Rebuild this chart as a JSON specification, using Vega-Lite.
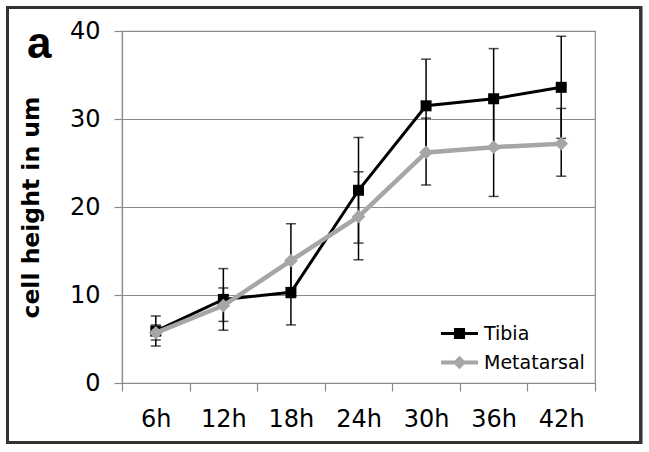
{
  "$schema": "https://vega.github.io/schema/vega-lite/v6.json",
  "width": 473,
  "height": 352,
  "autosize": {"type": "none"},
  "padding": {"left": 122, "top": 31, "right": 54, "bottom": 69},
  "background": "white",
  "config": {"view": {"stroke": "#8a8a8a", "strokeWidth": 1.2}, "font": "DejaVu Sans"},
  "title": {"text": "a", "anchor": "start", "frame": "group", "font": "Liberation Sans", "fontSize": 44, "fontWeight": "bold", "color": "black", "dx": -95, "baseline": "alphabetic", "offset": 0, "dy": 96},
  "data": {"values": [
    {"series": "Tibia", "hour": 6, "height": 5.9, "lo": 4.2, "hi": 7.6},
    {"series": "Tibia", "hour": 12, "height": 9.5, "lo": 6.0, "hi": 13.0},
    {"series": "Tibia", "hour": 18, "height": 10.3, "lo": 6.6, "hi": 14.0},
    {"series": "Tibia", "hour": 24, "height": 21.9, "lo": 15.9, "hi": 27.9},
    {"series": "Tibia", "hour": 30, "height": 31.5, "lo": 26.2, "hi": 36.8},
    {"series": "Tibia", "hour": 36, "height": 32.3, "lo": 26.6, "hi": 38.0},
    {"series": "Tibia", "hour": 42, "height": 33.6, "lo": 27.8, "hi": 39.4},
    {"series": "Metatarsal", "hour": 6, "height": 5.7, "lo": 4.9, "hi": 6.6},
    {"series": "Metatarsal", "hour": 12, "height": 8.8, "lo": 7.0, "hi": 10.8},
    {"series": "Metatarsal", "hour": 18, "height": 13.9, "lo": 9.7, "hi": 18.1},
    {"series": "Metatarsal", "hour": 24, "height": 18.9, "lo": 14.0, "hi": 24.0},
    {"series": "Metatarsal", "hour": 30, "height": 26.2, "lo": 22.5, "hi": 30.1},
    {"series": "Metatarsal", "hour": 36, "height": 26.8, "lo": 21.2, "hi": 32.4},
    {"series": "Metatarsal", "hour": 42, "height": 27.2, "lo": 23.5, "hi": 31.2}
  ]},
  "encoding": {
    "x": {"field": "hour", "type": "quantitative",
      "scale": {"domain": [3, 45], "nice": false, "zero": false},
      "axis": {"values": [3, 6, 9, 12, 15, 18, 21, 24, 27, 30, 33, 36, 39, 42, 45], "title": null, "grid": false,
        "labelExpr": "datum.value % 6 == 0 ? datum.value + 'h' : ''",
        "tickOpacity": {"condition": {"test": "datum.value % 6 == 3", "value": 1}, "value": 0},
        "tickSize": 8, "tickColor": "#8a8a8a", "tickWidth": 1.2, "domainColor": "#8a8a8a", "domainWidth": 1.2,
        "labelFont": "DejaVu Sans", "labelFontSize": 24, "labelColor": "black", "labelPadding": 16,
        "labelOverlap": false, "labelFlush": false, "labelBound": false}},
    "y": {"field": "height", "type": "quantitative",
      "scale": {"domain": [0, 40], "nice": false, "zero": false},
      "axis": {"values": [0, 10, 20, 30, 40], "title": "cell height in um",
        "titleFont": "DejaVu Sans", "titleFontSize": 23.5, "titleFontWeight": "bold", "titleColor": "black", "titlePadding": 26,
        "labelFont": "DejaVu Sans", "labelFontSize": 24, "labelColor": "black", "labelPadding": 14,
        "tickSize": 8, "tickColor": "#8a8a8a", "tickWidth": 1.2, "domainColor": "#8a8a8a", "domainWidth": 1.2,
        "grid": true, "gridColor": "#8a8a8a", "gridWidth": 1.2}}
  },
  "layer": [
    {"mark": {"type": "errorbar", "ticks": {"size": 10}, "thickness": 1.5, "color": "black"},
     "encoding": {"y": {"field": "lo", "type": "quantitative", "scale": {"domain": [0, 40], "nice": false, "zero": false}, "title": "cell height in um"}, "y2": {"field": "hi"}}},
    {"transform": [{"filter": "datum.series == 'Tibia'"}],
     "mark": {"type": "line", "color": "black", "strokeWidth": 3}},
    {"transform": [{"filter": "datum.series == 'Tibia'"}],
     "mark": {"type": "point", "shape": "square", "size": 121, "filled": true, "color": "black", "opacity": 1}},
    {"transform": [{"filter": "datum.series == 'Metatarsal'"}],
     "mark": {"type": "line", "color": "#a6a6a6", "strokeWidth": 4.5}},
    {"transform": [{"filter": "datum.series == 'Metatarsal'"}],
     "mark": {"type": "point", "shape": "diamond", "size": 190, "filled": true, "color": "#a6a6a6", "opacity": 1}},
    {"transform": [{"filter": "false"}],
     "mark": {"type": "point", "filled": true, "opacity": 1, "size": 1369},
     "encoding": {
       "shape": {"field": "series", "type": "nominal",
         "scale": {"domain": ["Tibia", "Metatarsal"], "range": ["M-1,-0.08H1V0.08H-1Z M-0.3,-0.3H0.3V0.3H-0.3Z", "M-1,-0.11H1V0.11H-1Z M0,-0.36L0.36,0L0,0.36L-0.36,0Z"]},
         "legend": {"orient": "bottom-right", "offset": 10, "title": null, "labelFont": "DejaVu Sans", "labelFontSize": 19, "labelColor": "black", "symbolSize": 1369, "symbolStrokeWidth": 0, "labelOffset": 6, "rowPadding": 0, "padding": 0}},
       "color": {"field": "series", "type": "nominal",
         "scale": {"domain": ["Tibia", "Metatarsal"], "range": ["black", "#a6a6a6"]},
         "legend": {"orient": "bottom-right", "offset": 10, "title": null, "labelFont": "DejaVu Sans", "labelFontSize": 19, "labelColor": "black", "symbolSize": 1369, "symbolStrokeWidth": 0, "labelOffset": 6, "rowPadding": 0, "padding": 0}}
     }},
    {"mark": {"type": "rect", "filled": false, "stroke": "#333333", "strokeWidth": 2.2},
     "encoding": {
       "x": {"datum": -7.18, "type": "quantitative"}, "x2": {"datum": 49.08},
       "y": {"datum": 42.69, "type": "quantitative"}, "y2": {"datum": -6.78}}}
  ]
}
